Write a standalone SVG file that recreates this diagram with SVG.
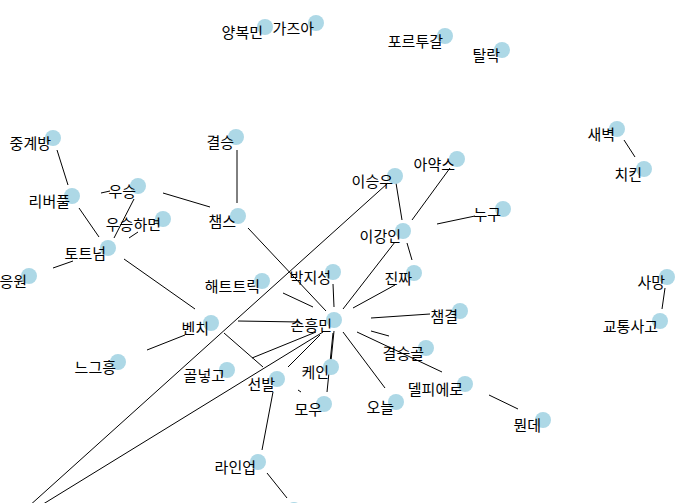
<svg xmlns="http://www.w3.org/2000/svg" width="690" height="503" viewBox="0 0 690 503">
<style>
.e line{stroke:#000;stroke-width:1;fill:none}
.n circle{fill:#add8e6}
.n text{font-family:"Noto Sans CJK KR","Noto Sans",sans-serif;font-size:15px;fill:#000;text-anchor:end}
</style>
<rect width="690" height="503" fill="#fff"/>
<g id="edges" class="e">
<line x1="57" y1="150" x2="68" y2="185"/>
<line x1="237" y1="150" x2="237" y2="203"/>
<line x1="624" y1="140" x2="635" y2="157"/>
<line x1="79" y1="208" x2="99" y2="237"/>
<line x1="101" y1="193" x2="110" y2="191"/>
<line x1="134" y1="199" x2="114" y2="238"/>
<line x1="129" y1="238" x2="138" y2="232"/>
<line x1="163" y1="193" x2="210" y2="207"/>
<line x1="53" y1="268" x2="73" y2="261"/>
<line x1="124" y1="259" x2="195" y2="309"/>
<line x1="248" y1="228" x2="326" y2="311"/>
<line x1="388" y1="183" x2="28" y2="507"/>
<line x1="323" y1="332" x2="40" y2="506"/>
<line x1="238" y1="321" x2="300" y2="322"/>
<line x1="283" y1="293" x2="313" y2="307"/>
<line x1="333" y1="284" x2="334" y2="307"/>
<line x1="396" y1="183" x2="402" y2="220"/>
<line x1="450" y1="168" x2="412" y2="220"/>
<line x1="437" y1="224" x2="475" y2="216"/>
<line x1="407" y1="243" x2="412" y2="260"/>
<line x1="395" y1="242" x2="343" y2="309"/>
<line x1="395" y1="285" x2="353" y2="308"/>
<line x1="371" y1="318" x2="430" y2="314"/>
<line x1="371" y1="331" x2="389" y2="336"/>
<line x1="357" y1="332" x2="442" y2="372"/>
<line x1="343" y1="332" x2="385" y2="388"/>
<line x1="334" y1="331" x2="331" y2="361"/>
<line x1="333" y1="333" x2="327" y2="392"/>
<line x1="252" y1="358" x2="316" y2="332"/>
<line x1="288" y1="367" x2="320" y2="335"/>
<line x1="224" y1="333" x2="263" y2="367"/>
<line x1="147" y1="350" x2="185" y2="335"/>
<line x1="273" y1="392" x2="262" y2="450"/>
<line x1="267" y1="473" x2="287" y2="498"/>
<line x1="489" y1="395" x2="518" y2="409"/>
<line x1="665" y1="288" x2="662" y2="309"/>
<line x1="298" y1="390" x2="301" y2="392"/>
</g>
<g id="n-yangbokmin" class="n"><circle cx="265" cy="27" r="8"/><text x="263" y="38">양복민</text></g>
<g id="n-gajua" class="n"><circle cx="316" cy="23" r="8"/><text x="314" y="34">가즈아</text></g>
<g id="n-portugal" class="n"><circle cx="445" cy="36" r="8"/><text x="443" y="47">포르투갈</text></g>
<g id="n-tallak" class="n"><circle cx="502" cy="50" r="8"/><text x="500" y="61">탈락</text></g>
<g id="n-junggyebang" class="n"><circle cx="53" cy="138" r="8"/><text x="51" y="149">중계방</text></g>
<g id="n-gyeolseung" class="n"><circle cx="236" cy="137" r="8"/><text x="234" y="148">결승</text></g>
<g id="n-saebyeok" class="n"><circle cx="617" cy="129" r="8"/><text x="615" y="140">새벽</text></g>
<g id="n-chicken" class="n"><circle cx="644" cy="169" r="8"/><text x="642" y="180">치킨</text></g>
<g id="n-ajax" class="n"><circle cx="457" cy="159" r="8"/><text x="455" y="170">아약스</text></g>
<g id="n-liverpool" class="n"><circle cx="72" cy="196" r="8"/><text x="70" y="207">리버풀</text></g>
<g id="n-useung" class="n"><circle cx="138" cy="186" r="8"/><text x="136" y="197">우승</text></g>
<g id="n-useunghamyeon" class="n"><circle cx="163" cy="219" r="8"/><text x="161" y="230">우승하면</text></g>
<g id="n-champs" class="n"><circle cx="238" cy="216" r="8"/><text x="236" y="227">챔스</text></g>
<g id="n-leeseungwoo" class="n"><circle cx="395" cy="176" r="8"/><text x="393" y="187">이승우</text></g>
<g id="n-nugu" class="n"><circle cx="503" cy="209" r="8"/><text x="501" y="220">누구</text></g>
<g id="n-leekangin" class="n"><circle cx="403" cy="231" r="8"/><text x="401" y="242">이강인</text></g>
<g id="n-tottenham" class="n"><circle cx="108" cy="248" r="8"/><text x="106" y="259">토트넘</text></g>
<g id="n-eungwon" class="n"><circle cx="29" cy="276" r="8"/><text x="27" y="287">응원</text></g>
<g id="n-jinjja" class="n"><circle cx="414" cy="273" r="8"/><text x="412" y="284">진짜</text></g>
<g id="n-parkjisung" class="n"><circle cx="333" cy="272" r="8"/><text x="331" y="283">박지성</text></g>
<g id="n-hattrick" class="n"><circle cx="262" cy="281" r="8"/><text x="260" y="292">해트트릭</text></g>
<g id="n-samang" class="n"><circle cx="667" cy="277" r="8"/><text x="665" y="288">사망</text></g>
<g id="n-bench" class="n"><circle cx="211" cy="323" r="8"/><text x="209" y="334">벤치</text></g>
<g id="n-son" class="n"><circle cx="334" cy="320" r="8"/><text x="332" y="331">손흥민</text></g>
<g id="n-chamgyeol" class="n"><circle cx="460" cy="311" r="8"/><text x="458" y="322">챔결</text></g>
<g id="n-accident" class="n"><circle cx="660" cy="321" r="8"/><text x="658" y="332">교통사고</text></g>
<g id="n-gyeolseunggol" class="n"><circle cx="426" cy="348" r="8"/><text x="424" y="359">결승골</text></g>
<g id="n-neugeuheung" class="n"><circle cx="118" cy="362" r="8"/><text x="116" y="373">느그흥</text></g>
<g id="n-golneokgo" class="n"><circle cx="227" cy="370" r="8"/><text x="225" y="381">골넣고</text></g>
<g id="n-kane" class="n"><circle cx="331" cy="367" r="8"/><text x="329" y="378">케인</text></g>
<g id="n-seonbal" class="n"><circle cx="277" cy="379" r="8"/><text x="275" y="390">선발</text></g>
<g id="n-delpiero" class="n"><circle cx="465" cy="384" r="8"/><text x="463" y="395">델피에로</text></g>
<g id="n-mou" class="n"><circle cx="324" cy="404" r="8"/><text x="322" y="415">모우</text></g>
<g id="n-oneul" class="n"><circle cx="396" cy="402" r="8"/><text x="394" y="413">오늘</text></g>
<g id="n-mwonde" class="n"><circle cx="543" cy="420" r="8"/><text x="541" y="431">뭔데</text></g>
<g id="n-lineup" class="n"><circle cx="258" cy="462" r="8"/><text x="256" y="473">라인업</text></g>
<g id="n-bottom" class="n"><circle cx="294" cy="510" r="8"/></g>
</svg>
